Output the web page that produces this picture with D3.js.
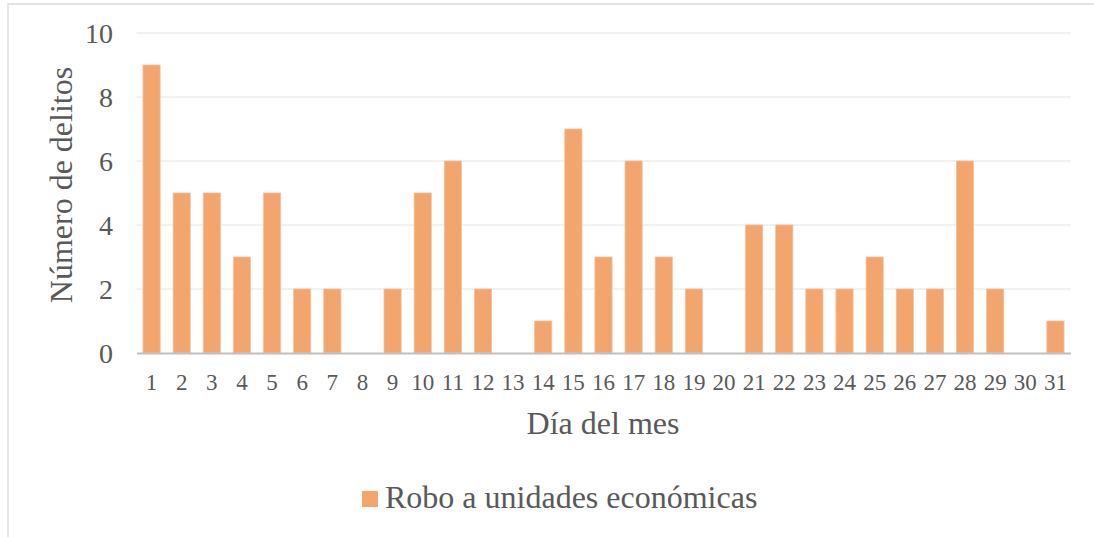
<!DOCTYPE html>
<html>
<head>
<meta charset="utf-8">
<script src="https://cdn.jsdelivr.net/npm/d3@7"></script>
<style>
  body { margin: 0; background: #fff; }
</style>
</head>
<body>
<svg id="chart"></svg>
<script>
var days = d3.range(1, 32).map(String);
var delitos = [9, 5, 5, 3, 5, 2, 2, 0, 2, 5, 6, 2, 0, 1, 7, 3, 6, 3, 2, 0, 4, 4, 2, 2, 3, 2, 2, 6, 2, 0, 1];
var yTicks = [0, 2, 4, 6, 8, 10];
var serie = "Robo a unidades económicas";

var width = 1094,
    height = 537;
var fontSerif = "'Liberation Serif'";
var textColor = "#595959";

var svg = d3.select("#chart")
  .attr("width", width)
  .attr("height", height);

// chart frame (only top and left edges are visible)
svg.append("path")
  .attr("d", "M8," + height + "V4H" + width)
  .attr("fill", "none")
  .attr("stroke", "#d9d9d9")
  .attr("stroke-width", 1.3);

var x = d3.scaleBand()
  .domain(days)
  .range([136.5, 1070.5])
  .paddingInner(0.43)
  .paddingOuter(0.215);

var y = d3.scaleLinear()
  .domain([0, 10])
  .range([353, 33]);

// gridlines
svg.append("g")
  .selectAll("line")
  .data(yTicks.filter(function(d) { return d > 0; }))
  .enter()
  .append("line")
  .attr("x1", 136.5)
  .attr("x2", 1070.5)
  .attr("y1", function(d) { return y(d); })
  .attr("y2", function(d) { return y(d); })
  .attr("stroke", "#ececec")
  .attr("stroke-width", 1.5);

// y axis labels
var yAxis = svg.append("g")
  .attr("transform", "translate(113,0)")
  .call(d3.axisLeft(y).tickValues(yTicks).tickSize(0).tickPadding(0));
yAxis.select(".domain").remove();
yAxis.selectAll("text")
  .style("font-family", fontSerif)
  .style("font-size", "28px")
  .attr("fill", textColor)
  .attr("dy", "0.34em");

// bars
svg.append("g")
  .selectAll("rect")
  .data(delitos)
  .enter()
  .append("rect")
  .attr("x", function(d, i) { return x(days[i]); })
  .attr("width", x.bandwidth())
  .attr("y", function(d) { return y(d); })
  .attr("height", function(d) { return y(0) - y(d); })
  .attr("fill", "#f2a56d")
  .attr("stroke", "#f6c19a")
  .attr("stroke-width", 0.8);

// x axis
var xAxis = svg.append("g")
  .attr("transform", "translate(0," + y(0) + ")")
  .call(d3.axisBottom(x).tickSize(0).tickPadding(21));
xAxis.select(".domain")
  .attr("stroke", "#bfbfbf")
  .attr("stroke-width", 2.2);
xAxis.selectAll("text")
  .style("font-family", fontSerif)
  .style("font-size", "23px")
  .attr("fill", textColor);

// axis titles
svg.append("text")
  .attr("transform", "translate(72,185) rotate(-90)")
  .attr("text-anchor", "middle")
  .style("font-family", fontSerif)
  .style("font-size", "32px")
  .attr("fill", textColor)
  .text("Número de delitos");

svg.append("text")
  .attr("x", 603)
  .attr("y", 434)
  .attr("text-anchor", "middle")
  .style("font-family", fontSerif)
  .style("font-size", "32px")
  .attr("fill", textColor)
  .text("Día del mes");

// legend
var legend = svg.append("g").attr("transform", "translate(362,491)");
legend.append("rect")
  .attr("width", 16)
  .attr("height", 16)
  .attr("fill", "#f2a56d");
legend.append("text")
  .attr("x", 23)
  .attr("y", 17)
  .style("font-family", fontSerif)
  .style("font-size", "32px")
  .attr("fill", textColor)
  .text(serie);
</script>
</body>
</html>
